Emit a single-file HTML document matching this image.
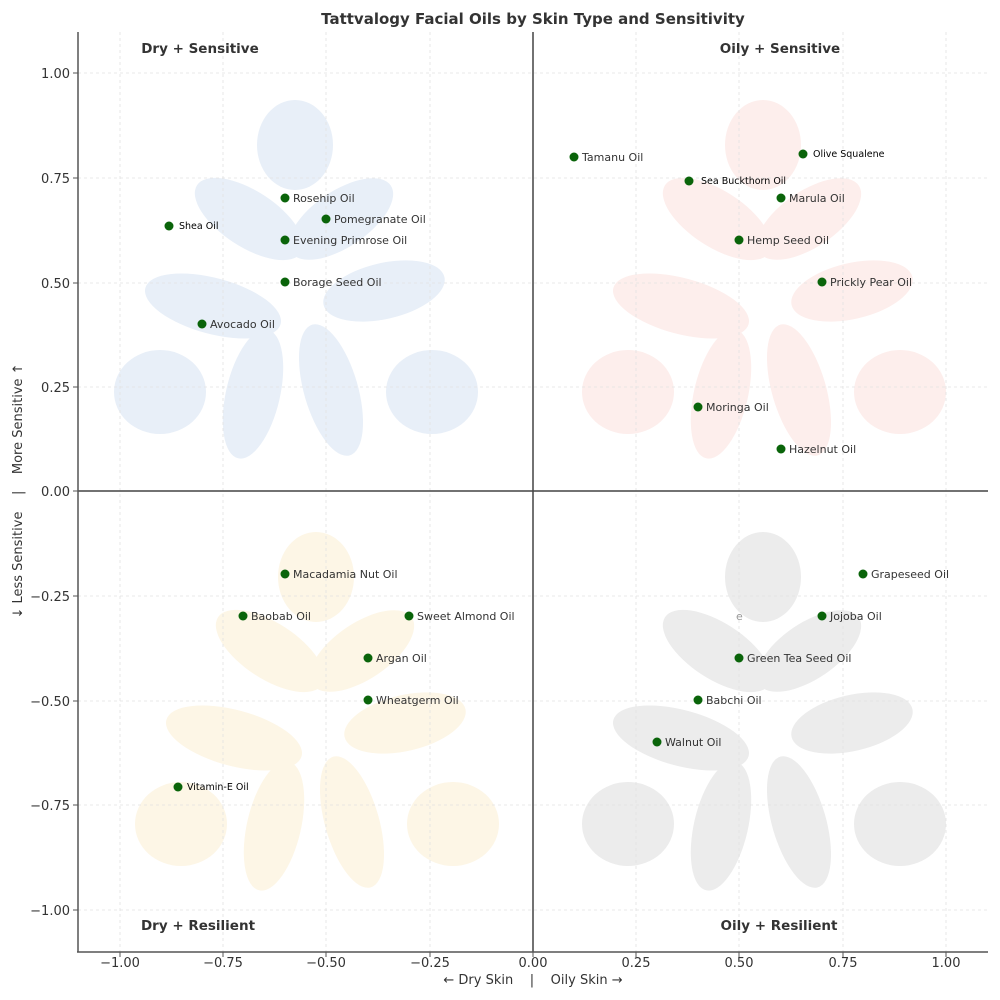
<!DOCTYPE html>
<html><head><meta charset="utf-8"><style>
html,body{margin:0;padding:0;background:#fff;}
svg{display:block;font-family:"DejaVu Sans","Liberation Sans",sans-serif;}
</style></head><body>
<svg width="1000" height="1000" viewBox="0 0 1000 1000" xmlns="http://www.w3.org/2000/svg">
<defs>
<g id="flower">
  <ellipse cx="295" cy="145" rx="38" ry="45"/>
  <ellipse cx="160" cy="392" rx="46" ry="42"/>
  <ellipse cx="432" cy="392" rx="46" ry="42"/>
  <ellipse cx="249" cy="219" rx="62" ry="28" transform="rotate(33 249 219)"/>
  <ellipse cx="341" cy="219" rx="60" ry="28" transform="rotate(-34 341 219)"/>
  <ellipse cx="213" cy="306" rx="70" ry="28" transform="rotate(15 213 306)"/>
  <ellipse cx="384" cy="291" rx="62" ry="28" transform="rotate(-13 384 291)"/>
  <ellipse cx="253" cy="394" rx="66" ry="27" transform="rotate(103 253 394)"/>
  <ellipse cx="331" cy="390" rx="68" ry="27" transform="rotate(74 331 390)"/>
</g>
</defs>
<use href="#flower" fill="#e8eff8"/>
<use href="#flower" fill="#fdeeec" transform="translate(468,0)"/>
<use href="#flower" fill="#fdf6e6" transform="translate(21,432)"/>
<use href="#flower" fill="#ececec" transform="translate(468,432)"/>
<g stroke="#e2e2e2" stroke-width="0.8" stroke-dasharray="3,3">
  <line x1="120" y1="32" x2="120" y2="952"/><line x1="223" y1="32" x2="223" y2="952"/>
  <line x1="326" y1="32" x2="326" y2="952"/><line x1="430" y1="32" x2="430" y2="952"/>
  <line x1="636" y1="32" x2="636" y2="952"/><line x1="739" y1="32" x2="739" y2="952"/>
  <line x1="843" y1="32" x2="843" y2="952"/><line x1="946" y1="32" x2="946" y2="952"/>
  <line x1="78" y1="73" x2="988" y2="73"/><line x1="78" y1="178" x2="988" y2="178"/>
  <line x1="78" y1="283" x2="988" y2="283"/><line x1="78" y1="387" x2="988" y2="387"/>
  <line x1="78" y1="596" x2="988" y2="596"/><line x1="78" y1="701" x2="988" y2="701"/>
  <line x1="78" y1="805" x2="988" y2="805"/><line x1="78" y1="910" x2="988" y2="910"/>
</g>
<g stroke="#444" stroke-width="1.5">
  <line x1="533" y1="32" x2="533" y2="952"/>
  <line x1="78" y1="491" x2="988" y2="491"/>
</g>
<g stroke="#555" stroke-width="1.5" fill="none">
  <line x1="78" y1="32" x2="78" y2="952"/>
  <line x1="77" y1="952" x2="988" y2="952"/>
</g>
<g stroke="#555" stroke-width="1">
  <line x1="120" y1="952" x2="120" y2="957"/><line x1="223" y1="952" x2="223" y2="957"/>
  <line x1="326" y1="952" x2="326" y2="957"/><line x1="430" y1="952" x2="430" y2="957"/>
  <line x1="533" y1="952" x2="533" y2="957"/><line x1="636" y1="952" x2="636" y2="957"/>
  <line x1="739" y1="952" x2="739" y2="957"/><line x1="843" y1="952" x2="843" y2="957"/>
  <line x1="946" y1="952" x2="946" y2="957"/>
  <line x1="73" y1="73" x2="78" y2="73"/><line x1="73" y1="178" x2="78" y2="178"/>
  <line x1="73" y1="283" x2="78" y2="283"/><line x1="73" y1="387" x2="78" y2="387"/>
  <line x1="73" y1="491" x2="78" y2="491"/><line x1="73" y1="596" x2="78" y2="596"/>
  <line x1="73" y1="701" x2="78" y2="701"/><line x1="73" y1="805" x2="78" y2="805"/>
  <line x1="73" y1="910" x2="78" y2="910"/>
</g>
<g font-size="13" fill="#333" text-anchor="middle">
  <text x="120" y="967">−1.00</text><text x="223" y="967">−0.75</text>
  <text x="326" y="967">−0.50</text><text x="430" y="967">−0.25</text>
  <text x="533" y="967">0.00</text><text x="636" y="967">0.25</text>
  <text x="739" y="967">0.50</text><text x="843" y="967">0.75</text>
  <text x="946" y="967">1.00</text>
</g>
<g font-size="13" fill="#333" text-anchor="end">
  <text x="70" y="78">1.00</text><text x="70" y="183">0.75</text>
  <text x="70" y="288">0.50</text><text x="70" y="392">0.25</text>
  <text x="70" y="496">0.00</text><text x="70" y="601">−0.25</text>
  <text x="70" y="706">−0.50</text><text x="70" y="810">−0.75</text>
  <text x="70" y="915">−1.00</text>
</g>
<text x="533" y="984" font-size="13" fill="#333" text-anchor="middle" xml:space="preserve">← Dry Skin    |    Oily Skin →</text>
<text transform="translate(22,491) rotate(-90)" font-size="13" fill="#333" text-anchor="middle" xml:space="preserve">↓ Less Sensitive    |    More Sensitive ↑</text>
<text x="533" y="24" font-size="15" font-weight="bold" fill="#333" text-anchor="middle">Tattvalogy Facial Oils by Skin Type and Sensitivity</text>
<g font-size="13.5" font-weight="bold" fill="#333" text-anchor="middle">
  <text x="200" y="53">Dry + Sensitive</text>
  <text x="780" y="53">Oily + Sensitive</text>
  <text x="198" y="930">Dry + Resilient</text>
  <text x="779" y="930">Oily + Resilient</text>
</g>
<g fill="#0a640a">
  <circle cx="285" cy="198" r="4.5"/><circle cx="326" cy="219" r="4.5"/><circle cx="285" cy="240" r="4.5"/>
  <circle cx="285" cy="282" r="4.5"/><circle cx="202" cy="324" r="4.5"/><circle cx="169" cy="226" r="4.5"/>
  <circle cx="574" cy="157" r="4.5"/><circle cx="803" cy="154" r="4.5"/><circle cx="689" cy="181" r="4.5"/>
  <circle cx="781" cy="198" r="4.5"/><circle cx="739" cy="240" r="4.5"/><circle cx="822" cy="282" r="4.5"/>
  <circle cx="698" cy="407" r="4.5"/><circle cx="781" cy="449" r="4.5"/>
  <circle cx="285" cy="574" r="4.5"/><circle cx="243" cy="616" r="4.5"/><circle cx="409" cy="616" r="4.5"/>
  <circle cx="368" cy="658" r="4.5"/><circle cx="368" cy="700" r="4.5"/><circle cx="178" cy="787" r="4.5"/>
  <circle cx="863" cy="574" r="4.5"/><circle cx="822" cy="616" r="4.5"/><circle cx="739" cy="658" r="4.5"/>
  <circle cx="698" cy="700" r="4.5"/><circle cx="657" cy="742" r="4.5"/>
</g>
<g font-size="11" fill="#333">
  <text x="293" y="202">Rosehip Oil</text><text x="334" y="223">Pomegranate Oil</text>
  <text x="293" y="244">Evening Primrose Oil</text><text x="293" y="286">Borage Seed Oil</text>
  <text x="210" y="328">Avocado Oil</text>
  <text x="582" y="161">Tamanu Oil</text><text x="789" y="202">Marula Oil</text>
  <text x="747" y="244">Hemp Seed Oil</text><text x="830" y="286">Prickly Pear Oil</text>
  <text x="706" y="411">Moringa Oil</text><text x="789" y="453">Hazelnut Oil</text>
  <text x="293" y="578">Macadamia Nut Oil</text><text x="251" y="620">Baobab Oil</text>
  <text x="417" y="620">Sweet Almond Oil</text><text x="376" y="662">Argan Oil</text>
  <text x="376" y="704">Wheatgerm Oil</text>
  <text x="871" y="578">Grapeseed Oil</text><text x="830" y="620">Jojoba Oil</text>
  <text x="747" y="662">Green Tea Seed Oil</text><text x="706" y="704">Babchi Oil</text>
  <text x="665" y="746">Walnut Oil</text>
  <text x="736" y="620" fill="#999">e</text>
</g>
<g font-size="9.5" fill="#000">
  <text x="179" y="229">Shea Oil</text><text x="813" y="157">Olive Squalene</text>
  <text x="701" y="184">Sea Buckthorn Oil</text><text x="187" y="790">Vitamin-E Oil</text>
</g>
</svg>
</body></html>
